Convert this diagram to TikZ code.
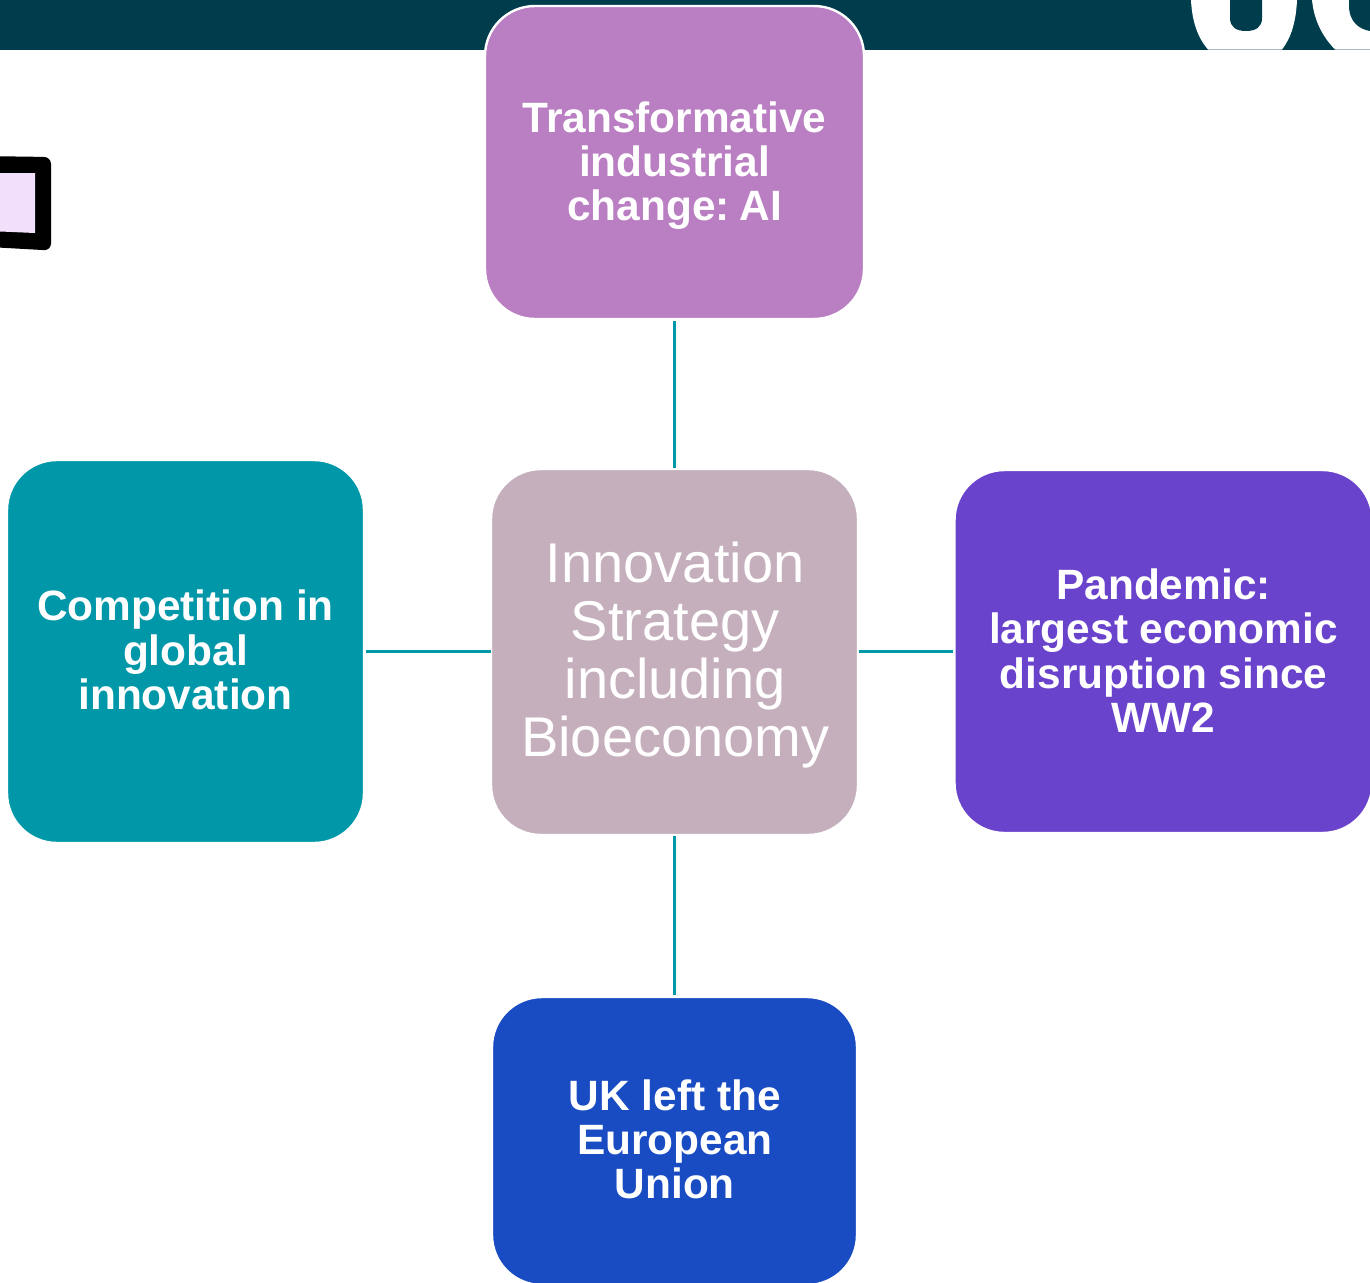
\documentclass[tikz,border=0pt]{standalone}
\usepackage{fontspec}
\setmainfont{Liberation Sans}
\definecolor{barcol}{HTML}{003D4C}
\definecolor{topcol}{HTML}{BA7EC2}
\definecolor{midcol}{HTML}{C5AFBC}
\definecolor{leftcol}{HTML}{0097A9}
\definecolor{rightcol}{HTML}{6A43CC}
\definecolor{botcol}{HTML}{194CC2}
\definecolor{linkcol}{HTML}{0097A9}
\definecolor{lilac}{HTML}{F2DFFC}
\tikzset{
  card/.style={draw=white,line width=2.4pt,rounded corners=50pt,
    inner sep=0pt,outer sep=0pt,anchor=center},
  cardtext/.style={align=center,text=white,inner sep=0pt,outer sep=0pt,anchor=center,
    font=\fontsize{42.4}{44.3}\selectfont\bfseries},
  midtext/.style={cardtext,font=\fontsize{56}{58}\selectfont},
  link/.style={draw=linkcol,line width=2.5pt}
}
\begin{document}
\begin{tikzpicture}[x=1pt,y=-1pt]
\useasboundingbox (0,0) rectangle (1370,1282);
\begin{scope}
\clip (0,0) rectangle (1370,1282);
\fill[barcol] (0,0) rectangle (1370,49.5);
% letter bottoms, top right
\fill[white] (1191,0) .. controls (1192,22) and (1198,38) .. (1208,49.5) -- (1282,49.5)
  .. controls (1291,38) and (1296,22) .. (1297,0) -- cycle;
\fill[barcol] (1230,0) -- (1230,18) .. controls (1230,27) and (1236,31) .. (1246,31)
  .. controls (1256,31) and (1262,27) .. (1262,18) -- (1262,0) -- cycle;
\fill[white] (1312,0) .. controls (1314,20) and (1322,36) .. (1335,49.5) -- (1370,49.5) -- (1370,0) -- cycle;
\fill[barcol] (1349,0) -- (1349,8) .. controls (1350,21) and (1358,29) .. (1370,31) -- (1370,0) -- cycle;
% framed patch at the left edge
\fill[black,rounded corners=7pt] (-20,156) -- (51,157) -- (51,250.5) -- (-20,246.5) -- cycle;
\fill[lilac] (0,173) -- (35,173) -- (35,233) -- (0,231.5) -- cycle;
% cards
\node[card,fill=topcol,minimum width=379pt,minimum height=313pt] (top) at (674.5,162.5) {};
\node[card,fill=midcol,minimum width=367pt,minimum height=366pt] (mid) at (674.5,652) {};
\node[card,fill=leftcol,minimum width=357pt,minimum height=383pt] (left) at (185.5,651.5) {};
\node[card,fill=rightcol,minimum width=418pt,minimum height=363pt] (right) at (1163.5,651.5) {};
\node[card,fill=botcol,minimum width=365pt,minimum height=288pt] (bot) at (674.5,1141) {};
% card texts
\node[cardtext] (toptext) at (674.5,165.5) {Transformative\\industrial\\change:\hspace{-6pt} AI};
\node[midtext] (midtext) at (675.2,655.5) {Innovation\\Strategy\\including\\Bioeconomy};
\node[cardtext] (lefttext) at (185.5,650) {Competition in\\global\\innovation};
\node[cardtext] (righttext) at (1163.5,650.5) {Pandemic:\\largest economic\\disruption since\\WW2};
\node[cardtext] (bottext) at (674.8,1139.5) {UK left the\\European\\Union};
% connectors
\draw[link,shorten <=2pt,shorten >=1.5pt] (top.south) -- (mid.north);
\draw[link,shorten <=2pt,shorten >=0.5pt] (left.east) -- (left.east -| mid.west);
\draw[link,shorten <=0.5pt,shorten >=1.5pt] (right.west -| mid.east) -- (right.west);
\draw[link,shorten <=1pt,shorten >=2pt] (mid.south) -- (bot.north);
\end{scope}
\end{tikzpicture}
\end{document}
